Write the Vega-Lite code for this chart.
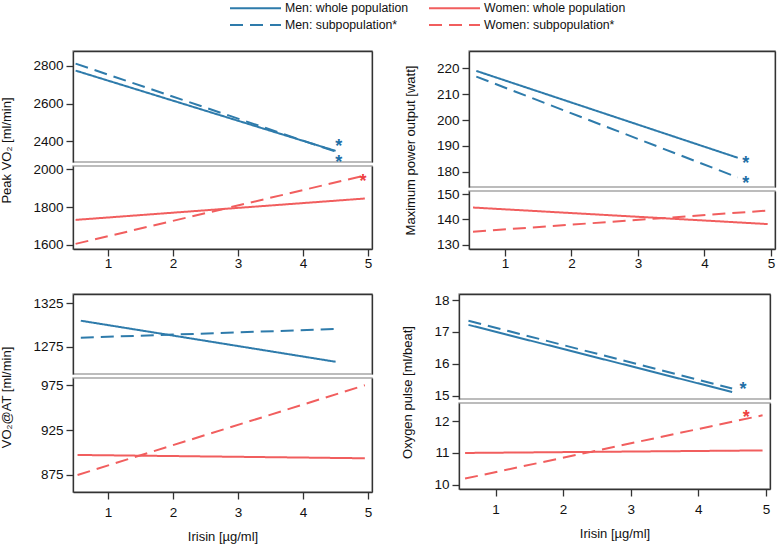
{
"$schema": "https://vega.github.io/schema/vega-lite/v6.json",
"padding": {"left": 0, "top": 1, "right": 2, "bottom": 2},
"background": "white",
"datasets": {
"lines": [
{"panel":"P1","part":"upper","series":"Men: whole population","x":0.5,"y":2775},
{"panel":"P1","part":"upper","series":"Men: whole population","x":4.5,"y":2349},
{"panel":"P1","part":"upper","series":"Men: subpopulation*","x":0.5,"y":2812},
{"panel":"P1","part":"upper","series":"Men: subpopulation*","x":4.5,"y":2345},
{"panel":"P1","part":"lower","series":"Women: whole population","x":0.5,"y":1732},
{"panel":"P1","part":"lower","series":"Women: whole population","x":4.95,"y":1845},
{"panel":"P1","part":"lower","series":"Women: subpopulation*","x":0.5,"y":1605},
{"panel":"P1","part":"lower","series":"Women: subpopulation*","x":4.95,"y":1967},
{"panel":"P2","part":"upper","series":"Men: whole population","x":0.57,"y":219},
{"panel":"P2","part":"upper","series":"Men: whole population","x":4.5,"y":185.4},
{"panel":"P2","part":"upper","series":"Men: subpopulation*","x":0.57,"y":216.8},
{"panel":"P2","part":"upper","series":"Men: subpopulation*","x":4.5,"y":177.8},
{"panel":"P2","part":"lower","series":"Women: whole population","x":0.52,"y":144.7},
{"panel":"P2","part":"lower","series":"Women: whole population","x":4.95,"y":138.2},
{"panel":"P2","part":"lower","series":"Women: subpopulation*","x":0.52,"y":135.2},
{"panel":"P2","part":"lower","series":"Women: subpopulation*","x":4.95,"y":143.5},
{"panel":"P3","part":"upper","series":"Men: whole population","x":0.58,"y":1305},
{"panel":"P3","part":"upper","series":"Men: whole population","x":4.5,"y":1257.7},
{"panel":"P3","part":"upper","series":"Men: subpopulation*","x":0.58,"y":1285.4},
{"panel":"P3","part":"upper","series":"Men: subpopulation*","x":4.5,"y":1295.4},
{"panel":"P3","part":"lower","series":"Women: whole population","x":0.53,"y":897.3},
{"panel":"P3","part":"lower","series":"Women: whole population","x":4.95,"y":893.6},
{"panel":"P3","part":"lower","series":"Women: subpopulation*","x":0.53,"y":875},
{"panel":"P3","part":"lower","series":"Women: subpopulation*","x":4.95,"y":975},
{"panel":"P4","part":"upper","series":"Men: whole population","x":0.6,"y":17.22},
{"panel":"P4","part":"upper","series":"Men: whole population","x":4.5,"y":15.11},
{"panel":"P4","part":"upper","series":"Men: subpopulation*","x":0.6,"y":17.35},
{"panel":"P4","part":"upper","series":"Men: subpopulation*","x":4.5,"y":15.22},
{"panel":"P4","part":"lower","series":"Women: whole population","x":0.55,"y":11.0},
{"panel":"P4","part":"lower","series":"Women: whole population","x":4.95,"y":11.08},
{"panel":"P4","part":"lower","series":"Women: subpopulation*","x":0.55,"y":10.19},
{"panel":"P4","part":"lower","series":"Women: subpopulation*","x":4.95,"y":12.19}
],
"stars": [
{"panel":"P1","part":"upper","sex":"Men","x":4.55,"y":2396},
{"panel":"P1","part":"upper","sex":"Men","x":4.55,"y":2311},
{"panel":"P1","part":"lower","sex":"Women","x":4.92,"y":1961},
{"panel":"P2","part":"upper","sex":"Men","x":4.62,"y":184.9},
{"panel":"P2","part":"upper","sex":"Men","x":4.62,"y":177.1},
{"panel":"P4","part":"upper","sex":"Men","x":4.66,"y":15.33},
{"panel":"P4","part":"lower","sex":"Women","x":4.71,"y":12.26}
]
},
"vconcat": [
{"hconcat": [
{"vconcat": [
{"width":299,"height":111,"layer":[
{"data":{"name":"lines"},"transform":[{"filter":"datum.panel==='P1' && datum.part==='upper'"}],"mark":{"type":"line","strokeWidth":2},
"encoding":{"x":{"field":"x","type":"quantitative","scale":{"domain":[0.46,5.06],"nice":false,"zero":false},"axis":{"orient":"top","labels":false,"ticks":false,"title":null}},
"y":{"field":"y","type":"quantitative","scale":{"domain":[2290,2879],"nice":false,"zero":false},"axis":{"values":[2400,2600,2800],"format":"d","title":"Peak VO₂ [ml/min]","titleY":99}},
"color":{"field":"series","type":"nominal","scale":{"domain":["Men: whole population","Women: whole population","Men: subpopulation*","Women: subpopulation*"],"range":["#2e7bab","#f15e5e","#2e7bab","#f15e5e"]},"legend":{"title":null}},
"strokeDash":{"field":"series","type":"nominal","scale":{"domain":["Men: whole population","Women: whole population","Men: subpopulation*","Women: subpopulation*"],"range":[[1,0],[1,0],[13,7],[13,7]]},"legend":{"title":null}}}},
{"data":{"name":"stars"},"transform":[{"filter":"datum.panel==='P1' && datum.part==='upper'"}],"mark":{"type":"text","text":"*","fontSize":18,"fontWeight":"bold","baseline":"middle","dy":5},
"encoding":{"x":{"field":"x","type":"quantitative","scale":{"domain":[0.46,5.06],"nice":false,"zero":false},"axis":null},
"y":{"field":"y","type":"quantitative","scale":{"domain":[2290,2879],"nice":false,"zero":false},"axis":{"orient":"right","labels":false,"ticks":false,"title":null}},
"fill":{"field":"sex","type":"nominal","scale":{"domain":["Men","Women"],"range":["#1f6fa6","#ee4040"]},"legend":null}}}
],"resolve":{"axis":{"x":"independent","y":"independent"}}},
{"width":299,"height":83,"layer":[
{"data":{"name":"lines"},"transform":[{"filter":"datum.panel==='P1' && datum.part==='lower'"}],"mark":{"type":"line","strokeWidth":2},
"encoding":{"x":{"field":"x","type":"quantitative","scale":{"domain":[0.46,5.06],"nice":false,"zero":false},"axis":{"values":[1,2,3,4,5],"title":null,"labelPadding":0}},
"y":{"field":"y","type":"quantitative","scale":{"domain":[1578,2017],"nice":false,"zero":false},"axis":{"values":[1600,1800,2000],"format":"d","title":null}},
"color":{"field":"series","type":"nominal","scale":{"domain":["Men: whole population","Women: whole population","Men: subpopulation*","Women: subpopulation*"],"range":["#2e7bab","#f15e5e","#2e7bab","#f15e5e"]},"legend":{"title":null}},
"strokeDash":{"field":"series","type":"nominal","scale":{"domain":["Men: whole population","Women: whole population","Men: subpopulation*","Women: subpopulation*"],"range":[[1,0],[1,0],[13,7],[13,7]]},"legend":{"title":null}}}},
{"data":{"name":"stars"},"transform":[{"filter":"datum.panel==='P1' && datum.part==='lower'"}],"mark":{"type":"text","text":"*","fontSize":18,"fontWeight":"bold","baseline":"middle","dy":5},
"encoding":{"x":{"field":"x","type":"quantitative","scale":{"domain":[0.46,5.06],"nice":false,"zero":false},"axis":null},
"y":{"field":"y","type":"quantitative","scale":{"domain":[1578,2017],"nice":false,"zero":false},"axis":{"orient":"right","labels":false,"ticks":false,"title":null}},
"fill":{"field":"sex","type":"nominal","scale":{"domain":["Men","Women"],"range":["#1f6fa6","#ee4040"]},"legend":null}}}
],"resolve":{"axis":{"x":"independent","y":"independent"}}}
],"spacing":4,"bounds":"flush"},
{"vconcat": [
{"width":306,"height":136,"layer":[
{"data":{"name":"lines"},"transform":[{"filter":"datum.panel==='P2' && datum.part==='upper'"}],"mark":{"type":"line","strokeWidth":2},
"encoding":{"x":{"field":"x","type":"quantitative","scale":{"domain":[0.46,5.06],"nice":false,"zero":false},"axis":{"orient":"top","labels":false,"ticks":false,"title":null}},
"y":{"field":"y","type":"quantitative","scale":{"domain":[174.1,226.7],"nice":false,"zero":false},"axis":{"values":[180,190,200,210,220],"format":"d","title":"Maximum power output [watt]","titleY":99}},
"color":{"field":"series","type":"nominal","scale":{"domain":["Men: whole population","Women: whole population","Men: subpopulation*","Women: subpopulation*"],"range":["#2e7bab","#f15e5e","#2e7bab","#f15e5e"]},"legend":{"title":null}},
"strokeDash":{"field":"series","type":"nominal","scale":{"domain":["Men: whole population","Women: whole population","Men: subpopulation*","Women: subpopulation*"],"range":[[1,0],[1,0],[13,7],[13,7]]},"legend":{"title":null}}}},
{"data":{"name":"stars"},"transform":[{"filter":"datum.panel==='P2' && datum.part==='upper'"}],"mark":{"type":"text","text":"*","fontSize":18,"fontWeight":"bold","baseline":"middle","dy":5},
"encoding":{"x":{"field":"x","type":"quantitative","scale":{"domain":[0.46,5.06],"nice":false,"zero":false},"axis":null},
"y":{"field":"y","type":"quantitative","scale":{"domain":[174.1,226.7],"nice":false,"zero":false},"axis":{"orient":"right","labels":false,"ticks":false,"title":null}},
"fill":{"field":"sex","type":"nominal","scale":{"domain":["Men","Women"],"range":["#1f6fa6","#ee4040"]},"legend":null}}}
],"resolve":{"axis":{"x":"independent","y":"independent"}}},
{"width":306,"height":58,"layer":[
{"data":{"name":"lines"},"transform":[{"filter":"datum.panel==='P2' && datum.part==='lower'"}],"mark":{"type":"line","strokeWidth":2},
"encoding":{"x":{"field":"x","type":"quantitative","scale":{"domain":[0.46,5.06],"nice":false,"zero":false},"axis":{"values":[1,2,3,4,5],"title":null,"labelPadding":0}},
"y":{"field":"y","type":"quantitative","scale":{"domain":[128.4,151.2],"nice":false,"zero":false},"axis":{"values":[130,140,150],"format":"d","title":null}},
"color":{"field":"series","type":"nominal","scale":{"domain":["Men: whole population","Women: whole population","Men: subpopulation*","Women: subpopulation*"],"range":["#2e7bab","#f15e5e","#2e7bab","#f15e5e"]},"legend":{"title":null}},
"strokeDash":{"field":"series","type":"nominal","scale":{"domain":["Men: whole population","Women: whole population","Men: subpopulation*","Women: subpopulation*"],"range":[[1,0],[1,0],[13,7],[13,7]]},"legend":{"title":null}}}},
{"data":{"name":"stars"},"transform":[{"filter":"datum.panel==='P2' && datum.part==='lower'"}],"mark":{"type":"text","text":"*","fontSize":18,"fontWeight":"bold","baseline":"middle","dy":5},
"encoding":{"x":{"field":"x","type":"quantitative","scale":{"domain":[0.46,5.06],"nice":false,"zero":false},"axis":null},
"y":{"field":"y","type":"quantitative","scale":{"domain":[128.4,151.2],"nice":false,"zero":false},"axis":{"orient":"right","labels":false,"ticks":false,"title":null}},
"fill":{"field":"sex","type":"nominal","scale":{"domain":["Men","Women"],"range":["#1f6fa6","#ee4040"]},"legend":null}}}
],"resolve":{"axis":{"x":"independent","y":"independent"}}}
],"spacing":4,"bounds":"flush"}
],"spacing":30},
{"hconcat": [
{"vconcat": [
{"width":299,"height":80,"layer":[
{"data":{"name":"lines"},"transform":[{"filter":"datum.panel==='P3' && datum.part==='upper'"}],"mark":{"type":"line","strokeWidth":2},
"encoding":{"x":{"field":"x","type":"quantitative","scale":{"domain":[0.46,5.06],"nice":false,"zero":false},"axis":{"orient":"top","labels":false,"ticks":false,"title":null}},
"y":{"field":"y","type":"quantitative","scale":{"domain":[1243.6,1335.8],"nice":false,"zero":false},"axis":{"values":[1275,1325],"format":"d","title":"VO₂@AT [ml/min]","titleY":103}},
"color":{"field":"series","type":"nominal","scale":{"domain":["Men: whole population","Women: whole population","Men: subpopulation*","Women: subpopulation*"],"range":["#2e7bab","#f15e5e","#2e7bab","#f15e5e"]},"legend":{"title":null}},
"strokeDash":{"field":"series","type":"nominal","scale":{"domain":["Men: whole population","Women: whole population","Men: subpopulation*","Women: subpopulation*"],"range":[[1,0],[1,0],[13,7],[13,7]]},"legend":{"title":null}}}},
{"data":{"name":"stars"},"transform":[{"filter":"datum.panel==='P3' && datum.part==='upper'"}],"mark":{"type":"text","text":"*","fontSize":18,"fontWeight":"bold","baseline":"middle","dy":5},
"encoding":{"x":{"field":"x","type":"quantitative","scale":{"domain":[0.46,5.06],"nice":false,"zero":false},"axis":null},
"y":{"field":"y","type":"quantitative","scale":{"domain":[1243.6,1335.8],"nice":false,"zero":false},"axis":{"orient":"right","labels":false,"ticks":false,"title":null}},
"fill":{"field":"sex","type":"nominal","scale":{"domain":["Men","Women"],"range":["#1f6fa6","#ee4040"]},"legend":null}}}
],"resolve":{"axis":{"x":"independent","y":"independent"}}},
{"width":299,"height":114,"layer":[
{"data":{"name":"lines"},"transform":[{"filter":"datum.panel==='P3' && datum.part==='lower'"}],"mark":{"type":"line","strokeWidth":2},
"encoding":{"x":{"field":"x","type":"quantitative","scale":{"domain":[0.46,5.06],"nice":false,"zero":false},"axis":{"values":[1,2,3,4,5],"title":"Irisin [µg/ml]","labelPadding":6}},
"y":{"field":"y","type":"quantitative","scale":{"domain":[856,983.1],"nice":false,"zero":false},"axis":{"values":[875,925,975],"format":"d","title":null}},
"color":{"field":"series","type":"nominal","scale":{"domain":["Men: whole population","Women: whole population","Men: subpopulation*","Women: subpopulation*"],"range":["#2e7bab","#f15e5e","#2e7bab","#f15e5e"]},"legend":{"title":null}},
"strokeDash":{"field":"series","type":"nominal","scale":{"domain":["Men: whole population","Women: whole population","Men: subpopulation*","Women: subpopulation*"],"range":[[1,0],[1,0],[13,7],[13,7]]},"legend":{"title":null}}}},
{"data":{"name":"stars"},"transform":[{"filter":"datum.panel==='P3' && datum.part==='lower'"}],"mark":{"type":"text","text":"*","fontSize":18,"fontWeight":"bold","baseline":"middle","dy":5},
"encoding":{"x":{"field":"x","type":"quantitative","scale":{"domain":[0.46,5.06],"nice":false,"zero":false},"axis":null},
"y":{"field":"y","type":"quantitative","scale":{"domain":[856,983.1],"nice":false,"zero":false},"axis":{"orient":"right","labels":false,"ticks":false,"title":null}},
"fill":{"field":"sex","type":"nominal","scale":{"domain":["Men","Women"],"range":["#1f6fa6","#ee4040"]},"legend":null}}}
],"resolve":{"axis":{"x":"independent","y":"independent"}}}
],"spacing":4,"bounds":"flush"},
{"vconcat": [
{"width":311,"height":105,"layer":[
{"data":{"name":"lines"},"transform":[{"filter":"datum.panel==='P4' && datum.part==='upper'"}],"mark":{"type":"line","strokeWidth":2},
"encoding":{"x":{"field":"x","type":"quantitative","scale":{"domain":[0.46,5.06],"nice":false,"zero":false},"axis":{"orient":"top","labels":false,"ticks":false,"title":null}},
"y":{"field":"y","type":"quantitative","scale":{"domain":[14.89,18.19],"nice":false,"zero":false},"axis":{"values":[15,16,17,18],"format":"d","title":"Oxygen pulse [ml/beat]","titleY":98}},
"color":{"field":"series","type":"nominal","scale":{"domain":["Men: whole population","Women: whole population","Men: subpopulation*","Women: subpopulation*"],"range":["#2e7bab","#f15e5e","#2e7bab","#f15e5e"]},"legend":{"title":null}},
"strokeDash":{"field":"series","type":"nominal","scale":{"domain":["Men: whole population","Women: whole population","Men: subpopulation*","Women: subpopulation*"],"range":[[1,0],[1,0],[13,7],[13,7]]},"legend":{"title":null}}}},
{"data":{"name":"stars"},"transform":[{"filter":"datum.panel==='P4' && datum.part==='upper'"}],"mark":{"type":"text","text":"*","fontSize":18,"fontWeight":"bold","baseline":"middle","dy":5},
"encoding":{"x":{"field":"x","type":"quantitative","scale":{"domain":[0.46,5.06],"nice":false,"zero":false},"axis":null},
"y":{"field":"y","type":"quantitative","scale":{"domain":[14.89,18.19],"nice":false,"zero":false},"axis":{"orient":"right","labels":false,"ticks":false,"title":null}},
"fill":{"field":"sex","type":"nominal","scale":{"domain":["Men","Women"],"range":["#1f6fa6","#ee4040"]},"legend":null}}}
],"resolve":{"axis":{"x":"independent","y":"independent"}}},
{"width":311,"height":86,"layer":[
{"data":{"name":"lines"},"transform":[{"filter":"datum.panel==='P4' && datum.part==='lower'"}],"mark":{"type":"line","strokeWidth":2},
"encoding":{"x":{"field":"x","type":"quantitative","scale":{"domain":[0.46,5.06],"nice":false,"zero":false},"axis":{"values":[1,2,3,4,5],"title":"Irisin [µg/ml]","labelPadding":6}},
"y":{"field":"y","type":"quantitative","scale":{"domain":[9.86,12.58],"nice":false,"zero":false},"axis":{"values":[10,11,12],"format":"d","title":null}},
"color":{"field":"series","type":"nominal","scale":{"domain":["Men: whole population","Women: whole population","Men: subpopulation*","Women: subpopulation*"],"range":["#2e7bab","#f15e5e","#2e7bab","#f15e5e"]},"legend":{"title":null}},
"strokeDash":{"field":"series","type":"nominal","scale":{"domain":["Men: whole population","Women: whole population","Men: subpopulation*","Women: subpopulation*"],"range":[[1,0],[1,0],[13,7],[13,7]]},"legend":{"title":null}}}},
{"data":{"name":"stars"},"transform":[{"filter":"datum.panel==='P4' && datum.part==='lower'"}],"mark":{"type":"text","text":"*","fontSize":18,"fontWeight":"bold","baseline":"middle","dy":5},
"encoding":{"x":{"field":"x","type":"quantitative","scale":{"domain":[0.46,5.06],"nice":false,"zero":false},"axis":null},
"y":{"field":"y","type":"quantitative","scale":{"domain":[9.86,12.58],"nice":false,"zero":false},"axis":{"orient":"right","labels":false,"ticks":false,"title":null}},
"fill":{"field":"sex","type":"nominal","scale":{"domain":["Men","Women"],"range":["#1f6fa6","#ee4040"]},"legend":null}}}
],"resolve":{"axis":{"x":"independent","y":"independent"}}}
],"spacing":4,"bounds":"flush"}
],"spacing":28}
],
"spacing": 21,
"config": {
"view": {"stroke": "#a6a6a6", "strokeWidth": 1.5},
"font": "Liberation Sans",
"axis": {"grid": false, "domainColor": "#333333", "domainWidth": 1.3, "tickColor": "#333333", "tickWidth": 1.3, "tickSize": 7, "labelFont": "Liberation Sans", "labelFontSize": 13.5, "labelColor": "#111111", "titleFont": "Liberation Sans", "titleFontSize": 13, "titleFontWeight": "normal", "titleColor": "#111111", "labelPadding": 3},
"axisY": {"titlePadding": 19},
"axisX": {"titlePadding": 12},
"legend": {"orient": "none", "legendX": 156, "legendY": -50, "direction": "horizontal", "columns": 2, "columnPadding": 16, "rowPadding": 3, "symbolType": "M-1,0H7.5", "symbolSize": 144, "symbolStrokeWidth": 2, "symbolFillColor": "transparent", "labelFont": "Liberation Sans", "labelFontSize": 12.3, "labelColor": "#111111", "labelOffset": 42, "padding": 0}
}
}
